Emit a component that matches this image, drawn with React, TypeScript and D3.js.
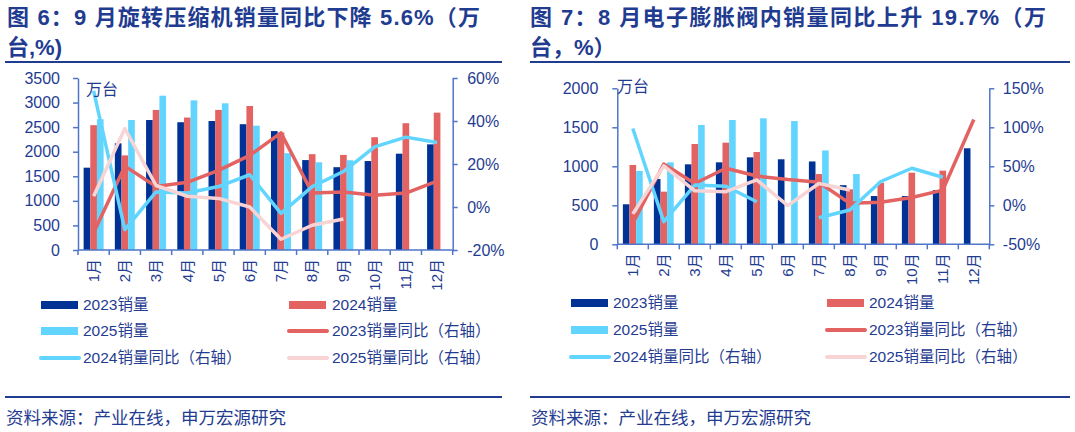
import React, { useRef, useEffect } from 'react';
import * as d3 from 'd3';

const months = ['1月', '2月', '3月', '4月', '5月', '6月', '7月', '8月', '9月', '10月', '11月', '12月'];

// 旋转压缩机销量（万台）
const comp2023 = [1675, 2170, 2645, 2600, 2625, 2560, 2420, 1830, 1685, 1810, 1960, 2150];
const comp2024 = [2540, 1925, 2850, 2695, 2850, 2930, 2390, 1950, 1935, 2295, 2580, 2795];
const comp2025 = [2660, 2645, 3140, 3045, 2985, 2530, 1970, 1785, 1827, null, null, null];
// 同比（%）
const compYoy2023 = [-12, 19, 9.5, 11.5, 17, 24, 34.5, 6.5, 7, 5.5, 6.5, 12];
const compYoy2024 = [54, -10.5, 7, 6.5, 9.5, 15, -3, 9.5, 16.5, 28, 32.5, 30];
const compYoy2025 = [5, 36.5, 10, 5, 4, 0, -15, -8.5, -5.6, null, null, null];
const compLeftTicks = [0, 500, 1000, 1500, 2000, 2500, 3000, 3500];
const compRightTicks = [-20, 0, 20, 40, 60];

// 电子膨胀阀内销量（万台）
const eev2023 = [513, 837, 1025, 1051, 1115, 1090, 1062, 758, 619, 619, 696, 1231];
const eev2024 = [1017, 675, 1286, 1303, 1183, null, 901, 705, 790, 918, 944, null];
const eev2025 = [940, 1051, 1530, 1594, 1615, 1580, 1203, 901, null, null, null, null];
// 同比（%）
const eevYoy2023 = [-23, 53, 28, 47.5, 37.5, 33, 29.5, 2.5, 4, 10, 19.5, 110];
const eevYoy2024 = [98.5, -21, 26, 24.5, 4.5, null, -16, -6, 30.5, 47.5, 36, null];
const eevYoy2025 = [-11, 50.5, 18.5, 17.5, 32.5, -0.5, 28, 19.7, null, null, null, null];
const eevLeftTicks = [0, 500, 1000, 1500, 2000];
const eevRightTicks = [-50, 0, 50, 100, 150];

const NAVY = '#003296';
const RED = '#E36262';
const SKY = '#62D5FF';
const PINK = '#F9D4D4';
const TEXT = '#1F3C91';
const AXIS = '#4F76C9';
const FONT = '"Liberation Sans", Arial, "Noto Sans CJK SC", sans-serif';

type Val = number | null;

interface Panel {
  x0: number; x1: number; y0: number; y1: number;
  leftDomain: [number, number]; rightDomain: [number, number];
  leftTicks: number[]; rightTicks: number[];
  leftPad: number; rightPad: number;
  bars: { key: string; values: Val[]; color: string }[];
  lines: { values: Val[]; color: string }[];
  titles: string[]; titleX: number; titleLen: number;
  ruleX0: number; ruleX1: number;
  unitX: number; unitY: number;
  legendMark: number[]; legendText: number[]; legendRows: number[];
}

const legendItems = [
  { label: '2023销量', color: NAVY, kind: 'bar' },
  { label: '2024销量', color: RED, kind: 'bar' },
  { label: '2025销量', color: SKY, kind: 'bar' },
  { label: '2023销量同比（右轴）', color: RED, kind: 'line' },
  { label: '2024销量同比（右轴）', color: SKY, kind: 'line' },
  { label: '2025销量同比（右轴）', color: PINK, kind: 'line' },
];

function drawPanel(svg: any, p: Panel) {
  const g = svg.append('g');

  const x = d3.scaleBand().domain(months).range([p.x0, p.x1]).paddingInner(0.36).paddingOuter(0.18);
  const xs = d3.scaleBand().domain(p.bars.map(b => b.key)).range([0, x.bandwidth()]);
  const yL = d3.scaleLinear().domain(p.leftDomain).range([p.y1, p.y0]);
  const yR = d3.scaleLinear().domain(p.rightDomain).range([p.y1, p.y0]);

  // title + rule under it
  p.titles.forEach((t, i) => {
    const el = g.append('text')
      .attr('x', p.titleX)
      .attr('y', 25 + i * 30)
      .attr('font-family', FONT)
      .attr('font-size', 22)
      .attr('font-weight', 'bold')
      .attr('fill', TEXT)
      .text(t);
    if (i === 0) el.attr('textLength', p.titleLen).attr('lengthAdjust', 'spacing');
  });
  g.append('line').attr('x1', p.ruleX0).attr('x2', p.ruleX1).attr('y1', 62).attr('y2', 62)
    .attr('stroke', TEXT).attr('stroke-width', 2);

  // bars
  p.bars.forEach(b => {
    g.append('g')
      .selectAll('rect')
      .data(months.map((m, i) => ({ m, v: b.values[i] })).filter(d => d.v != null))
      .join('rect')
      .attr('x', d => (x(d.m) as number) + (xs(b.key) as number))
      .attr('width', xs.bandwidth())
      .attr('y', d => yL(d.v as number))
      .attr('height', d => yL(0) - yL(d.v as number))
      .attr('fill', b.color);
  });

  // axes
  const styleAxis = (a: any) => {
    a.selectAll('path').attr('stroke', AXIS).attr('stroke-width', 1.5);
    a.selectAll('line').attr('stroke', AXIS).attr('stroke-width', 1.5);
    a.selectAll('text').attr('fill', TEXT).attr('font-size', 16).attr('font-family', FONT);
  };
  g.append('g')
    .attr('transform', `translate(${p.x0},0)`)
    .call(d3.axisLeft(yL).tickValues(p.leftTicks).tickSize(5).tickSizeOuter(0).tickPadding(p.leftPad).tickFormat(d3.format('d')))
    .call(styleAxis);
  g.append('g')
    .attr('transform', `translate(${p.x1},0)`)
    .call(d3.axisRight(yR).tickValues(p.rightTicks).tickSize(5).tickSizeOuter(0).tickPadding(p.rightPad).tickFormat(d => `${d}%`))
    .call(styleAxis);

  // category axis
  g.append('line').attr('x1', p.x0).attr('x2', p.x1).attr('y1', p.y1).attr('y2', p.y1)
    .attr('stroke', AXIS).attr('stroke-width', 1.5);
  g.append('g').selectAll('line')
    .data(d3.range(months.length + 1))
    .join('line')
    .attr('x1', i => p.x0 + i * x.step())
    .attr('x2', i => p.x0 + i * x.step())
    .attr('y1', p.y1)
    .attr('y2', p.y1 + 5)
    .attr('stroke', AXIS).attr('stroke-width', 1.5);
  g.append('g').selectAll('text')
    .data(months)
    .join('text')
    .attr('transform', m => `translate(${(x(m) as number) + x.bandwidth() / 2},${p.y1 + 9}) rotate(-90)`)
    .attr('text-anchor', 'end')
    .attr('dy', '0.35em')
    .attr('font-family', FONT)
    .attr('font-size', 15)
    .attr('fill', TEXT)
    .text(m => m);

  // YoY lines on the right axis
  const line = d3.line<Val>()
    .defined(d => d != null)
    .x((_, i) => (x(months[i]) as number) + x.bandwidth() / 2)
    .y(d => yR(d as number));
  p.lines.forEach(l => {
    g.append('path')
      .attr('d', line(l.values))
      .attr('fill', 'none')
      .attr('stroke', l.color)
      .attr('stroke-width', 3.5)
      .attr('stroke-linejoin', 'round');
  });

  g.append('text')
    .attr('x', p.unitX).attr('y', p.unitY)
    .attr('dy', '0.35em')
    .attr('font-family', FONT).attr('font-size', 16).attr('fill', TEXT)
    .text('万台');

  // legend
  legendItems.forEach((it, i) => {
    const col = i % 2;
    const row = Math.floor(i / 2);
    const ly = p.legendRows[row];
    const mx = p.legendMark[col];
    if (it.kind === 'bar') {
      g.append('rect').attr('x', mx).attr('y', ly - 4).attr('width', 37).attr('height', 8).attr('fill', it.color);
    } else {
      g.append('line').attr('x1', mx).attr('x2', mx + 38).attr('y1', ly).attr('y2', ly)
        .attr('stroke', it.color).attr('stroke-width', 4).attr('stroke-linecap', 'round');
    }
    g.append('text')
      .attr('x', p.legendText[col]).attr('y', ly)
      .attr('dy', '0.35em')
      .attr('font-family', FONT).attr('font-size', 15.5).attr('fill', TEXT)
      .text(it.label);
  });

  // source
  g.append('line').attr('x1', p.ruleX0).attr('x2', p.ruleX1).attr('y1', 397).attr('y2', 397)
    .attr('stroke', TEXT).attr('stroke-width', 2);
  g.append('text')
    .attr('x', p.ruleX0 + 1).attr('y', 418)
    .attr('dy', '0.35em')
    .attr('font-family', FONT).attr('font-size', 17.5).attr('fill', TEXT)
    .text('资料来源：产业在线，申万宏源研究');
}

const App: React.FC = () => {
  const svgRef = useRef<SVGSVGElement>(null);

  useEffect(() => {
    const svg = d3.select(svgRef.current as any);
    svg.selectAll('*').remove();

    drawPanel(svg, {
      x0: 78, x1: 452.7, y0: 78, y1: 250,
      leftDomain: [0, 3500], rightDomain: [-20, 60],
      leftTicks: compLeftTicks, rightTicks: compRightTicks,
      leftPad: 13, rightPad: 9.5,
      bars: [
        { key: '2023', values: comp2023, color: NAVY },
        { key: '2024', values: comp2024, color: RED },
        { key: '2025', values: comp2025, color: SKY },
      ],
      lines: [
        { values: compYoy2023, color: RED },
        { values: compYoy2024, color: SKY },
        { values: compYoy2025, color: PINK },
      ],
      titles: ['图 6：9 月旋转压缩机销量同比下降 5.6%（万', '台,%)'],
      titleX: 7, titleLen: 473,
      ruleX0: 5, ruleX1: 502,
      unitX: 86, unitY: 89,
      legendMark: [41, 289], legendText: [83, 332], legendRows: [305, 331, 358],
    });

    drawPanel(svg, {
      x0: 617.3, x1: 989.3, y0: 88.3, y1: 244.3,
      leftDomain: [0, 2000], rightDomain: [-50, 150],
      leftTicks: eevLeftTicks, rightTicks: eevRightTicks,
      leftPad: 14, rightPad: 8.5,
      bars: [
        { key: '2023', values: eev2023, color: NAVY },
        { key: '2024', values: eev2024, color: RED },
        { key: '2025', values: eev2025, color: SKY },
      ],
      lines: [
        { values: eevYoy2023, color: RED },
        { values: eevYoy2024, color: SKY },
        { values: eevYoy2025, color: PINK },
      ],
      titles: ['图 7：8 月电子膨胀阀内销量同比上升 19.7%（万', '台，%）'],
      titleX: 530, titleLen: 516,
      ruleX0: 530, ruleX1: 1070,
      unitX: 617, unitY: 86,
      legendMark: [571, 827], legendText: [613, 869], legendRows: [303, 330, 357],
    });
  }, []);

  return (
    <svg
      ref={svgRef}
      width={1075}
      height={432}
      style={{ position: 'absolute', left: 0, top: 0, background: '#fff' }}
    />
  );
};

export default App;
